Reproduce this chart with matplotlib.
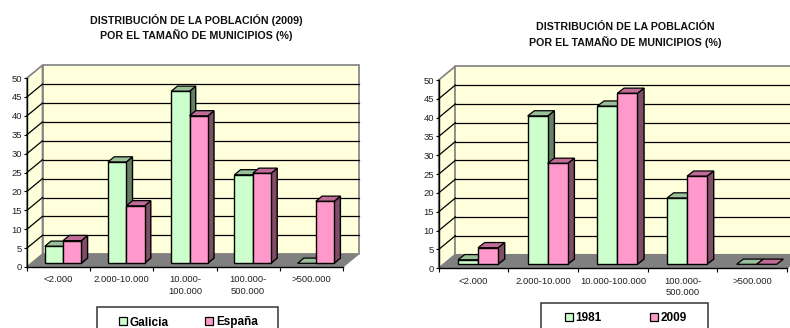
import matplotlib
matplotlib.use("Agg")
import matplotlib.pyplot as plt
from matplotlib.patches import Polygon, Rectangle

plt.rcParams['font.family'] = ['Liberation Sans', 'DejaVu Sans']

W, H = 790, 328

cats_left = ["<2.000", "2.000-10.000", "10.000-\n100.000", "100.000-\n500.000", ">500.000"]
galicia = [4.5, 26.8, 45.5, 23.4, 0]
espana = [6.0, 15.2, 39.0, 23.8, 16.4]

cats_right = ["<2.000", "2.000-10.000", "10.000-100.000", "100.000-\n500.000", ">500.000"]
y1981 = [1.2, 39.4, 42.0, 17.6, 0]
y2009 = [4.4, 26.8, 45.4, 23.4, 0]

yticks = list(range(0, 55, 5))
GREEN, GREEN_TOP, GREEN_SIDE = "#CCFFCC", "#99C099", "#668066"
PINK, PINK_TOP, PINK_SIDE = "#FF99CC", "#C06C96", "#804D66"
WALL = "#FFFFDC"

fig = plt.figure(figsize=(W / 100, H / 100), dpi=100)


def chart(x0, x1, y0, y50, back_dx, back_dy, bar_w, off_x, off_y, d_x, d_y,
          cats, s1, s2, l1, l2, title, title_xy, box, leg_xy, colspace):
    ax = fig.add_axes([x0 / W, 1 - y0 / H, (x1 - x0) / W, (y0 - y50) / H])
    ax.set_xlim(0, 5)
    ax.set_ylim(0, 50)
    ax.patch.set_visible(False)
    px = 5 / (x1 - x0)
    py = 50 / (y0 - y50)
    bdx, bdy = back_dx * px, back_dy * py
    wall_top = 50

    def poly(pts, fc, ec, lw=1.0, z=1):
        ax.add_patch(Polygon(pts, closed=True, fc=fc, ec=ec, lw=lw, zorder=z, clip_on=False))

    # side wall, back wall, floor
    poly([(0, 0), (bdx, bdy), (bdx, wall_top + bdy), (0, wall_top)], WALL, "#808080", 1.2)
    poly([(bdx, bdy), (5 + bdx, bdy), (5 + bdx, wall_top + bdy), (bdx, wall_top + bdy)],
         WALL, "#808080", 1.2)
    for v in yticks[1:-1]:
        ax.plot([bdx, 5 + bdx], [v + bdy, v + bdy], color="black", lw=0.9, zorder=2, clip_on=False)
    for v in yticks[1:-1]:
        ax.plot([0, bdx], [v, v + bdy], color="black", lw=0.9, zorder=2, clip_on=False)
    poly([(0, 0), (5, 0), (5 + bdx, bdy), (bdx, bdy)], "#808080", "#808080", 0.8, 3)

    w = bar_w * px
    ox, oy = off_x * px, off_y * py
    dx, dy = d_x * px, d_y * py
    z = 4
    for i in range(len(cats)):
        c = i + 0.5 + ox
        for val, left, fc, top, side in ((s1[i], c - w, GREEN, GREEN_TOP, GREEN_SIDE),
                                         (s2[i], c, PINK, PINK_TOP, PINK_SIDE)):
            edge = "black"
            if val > 0:
                poly([(left + w, oy), (left + w + dx, oy + dy), (left + w + dx, oy + dy + val),
                      (left + w, oy + val)], side, edge, 1.0, z)
            poly([(left, oy + val), (left + w, oy + val), (left + w + dx, oy + val + dy),
                  (left + dx, oy + val + dy)], top, edge, 0.9, z)
            if val > 0:
                ax.bar(left, val, width=w, bottom=oy, align="edge", color=fc,
                       edgecolor=edge, linewidth=1.0, zorder=z, clip_on=False)
            z += 1

    for s in ("top", "right"):
        ax.spines[s].set_visible(False)
    for s in ("left", "bottom"):
        ax.spines[s].set_color("black")
        ax.spines[s].set_linewidth(1.0)
        ax.spines[s].set_zorder(30)
    ax.set_yticks(yticks)
    ax.tick_params(axis="y", length=2.5, width=0.8, pad=1.0, labelsize=6.8, labelcolor="#222222")
    ax.set_xticks(range(6))
    ax.set_xticklabels([])
    ax.set_xticks([i + 0.5 for i in range(5)], minor=True)
    ax.set_xticklabels(cats, minor=True, fontsize=6.8, color="#222222", linespacing=1.4)
    ax.tick_params(axis="x", which="major", length=3, width=0.8)
    ax.tick_params(axis="x", which="minor", length=0, pad=6)

    fig.text(title_xy[0] / W, 1 - title_xy[1] / H, title, ha="center", va="center",
             fontsize=7.7, fontweight="bold", color="#111111", linespacing=1.4)

    # legend: frame runs past the bottom edge of the picture
    bx0, bx1, btop = box
    fig.add_artist(Rectangle((bx0 / W, -0.1), (bx1 - bx0) / W, 1 - btop / H + 0.1,
                             transform=fig.transFigure, fc="white", ec="#333333", lw=1.1))
    h1 = Rectangle((0, 0), 1, 1, fc=GREEN, ec="black", lw=0.9)
    h2 = Rectangle((0, 0), 1, 1, fc=PINK, ec="black", lw=0.9)
    leg = fig.legend([h1, h2], [l1, l2], ncol=2, loc="upper left",
                     bbox_to_anchor=(leg_xy[0] / W, 1 - leg_xy[1] / H),
                     borderaxespad=0, frameon=False, borderpad=0,
                     handlelength=0.68, handleheight=0.68,
                     handletextpad=0.22, columnspacing=colspace,
                     prop={"size": 8.5, "weight": "bold", "family": "Liberation Sans"})
    leg.set_zorder(10)


chart(27, 343, 267, 78, 15.5, 12.8, 18.3, 4.5, 3.7, 6.2, 5.2,
      cats_left, galicia, espana, "Galicia", "España",
      "DISTRIBUCIÓN DE LA POBLACIÓN (2009)\nPOR EL TAMAÑO DE MUNICIPIOS (%)", (196, 27.5),
      (97, 278, 307), (119, 316.5), 3.1)
chart(438.7, 787, 268.3, 80, 16.7, 13.8, 20, 4.5, 4, 6.7, 5.2,
      cats_right, y1981, y2009, "1981", "2009",
      "DISTRIBUCIÓN DE LA POBLACIÓN\nPOR EL TAMAÑO DE MUNICIPIOS (%)", (625, 35),
      (541, 708, 303), (565, 312), 4.1)

fig.savefig("out.png", dpi=100, facecolor="white")
